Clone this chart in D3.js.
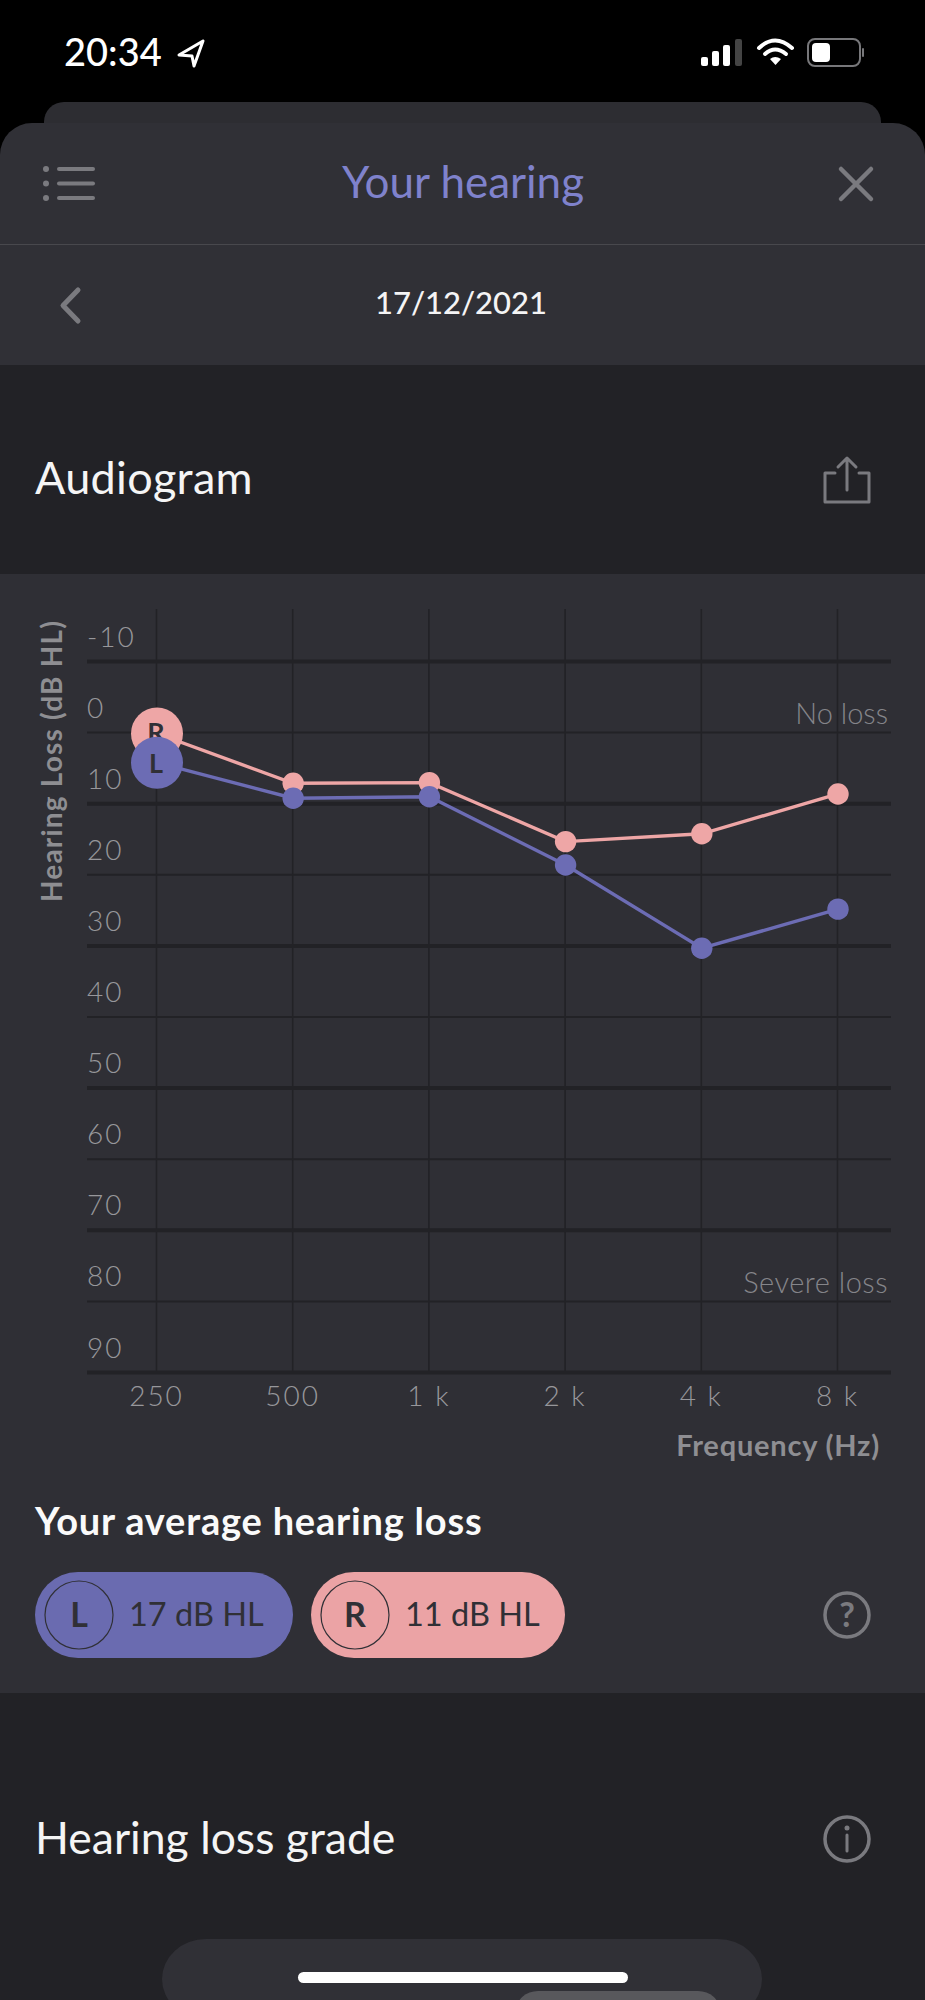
<!DOCTYPE html>
<html>
<head>
<meta charset="utf-8">
<script src="https://cdn.jsdelivr.net/npm/d3@7"></script>
<style>
  html, body { margin: 0; background: #000; }
  svg { display: block; }
  text { font-family: Lato, "Noto Sans", sans-serif; }
</style>
</head>
<body>
<div id="chart"></div>
<script>
const frequencies = ['250', '500', '1 k', '2 k', '4 k', '8 k']
const rightEar = [0.2, 7.2, 7.1, 15.4, 14.3, 8.7]
const leftEar = [4.3, 9.3, 9.1, 18.7, 30.4, 24.9]
const levels = [-10, 0, 10, 20, 30, 40, 50, 60, 70, 80, 90]
const averages = [
  {ear: 'L', text: '17 dB HL'},
  {ear: 'R', text: '11 dB HL'},
]

const pink = '#eea6a6'
const blue = '#6c6cb4'
const dark = '#222226'
const card = '#303036'
const icon = '#7a7a7f'
const axisText = '#8e8e92'
const tickText = '#97979b'

const svg = d3.select('#chart').append('svg').attr('width', 925).attr('height', 2000)

function rect (x, y, w, h, fill, r) {
  return svg.append('rect').attr('x', x).attr('y', y).attr('width', w).attr('height', h)
    .attr('rx', r || 0).attr('fill', fill)
}
function label (x, y, str, size, fill, weight, anchor, spacing) {
  return svg.append('text').attr('x', x).attr('y', y).text(str)
    .attr('font-size', size).attr('fill', fill)
    .attr('font-weight', weight || 400).attr('text-anchor', anchor || 'start')
    .attr('letter-spacing', spacing || 0)
}
function stroke (d, color, width) {
  return svg.append('path').attr('d', d).attr('fill', 'none').attr('stroke', color)
    .attr('stroke-width', width).attr('stroke-linecap', 'round').attr('stroke-linejoin', 'round')
}

// backgrounds
rect(0, 0, 925, 2000, '#000')
rect(44, 102, 837, 60, '#2d2d32', 20)
rect(0, 123, 925, 300, card, 32)
rect(0, 365, 925, 1635, dark)
rect(0, 574, 925, 1119, '#2f2f35')
rect(0, 244, 925, 1, '#48484d')

// status bar
label(64, 66, '20:34', 38, '#fff', 500)
stroke('M203,41 L179,55 L192,56 L194,66 Z', '#fff', 3)
d3.range(3).forEach(i => rect(701 + i * 11, 57 - i * 6, 7, 9 + i * 6, '#fff', 2))
rect(735, 39, 7, 27, '#444', 2)
stroke('M759,48 Q775,33 792,48', '#fff', 4)
stroke('M765,54 Q775,45 786,54', '#fff', 4)
svg.append('path').attr('d', 'M770,59 Q775,55 781,59 L775.5,65 Z').attr('fill', '#fff')
rect(808, 39, 52, 27, 'none', 7).attr('stroke', '#77777a').attr('stroke-width', 2)
rect(812, 43, 18, 19, '#fff', 4)
rect(862, 48, 2, 9, '#77777a', 1)

// header
;[169, 183.5, 198].forEach(y => {
  svg.append('circle').attr('cx', 46).attr('cy', y).attr('r', 3).attr('fill', icon)
  stroke(`M59,${y} H93`, icon, 4)
})
label(463, 198, 'Your hearing', 44, '#7f82cc', 400, 'middle')
stroke('M841,169 L871,199 M871,169 L841,199', icon, 4.5)
stroke('M78,290 L63,305.5 L78,321', icon, 5)
label(461, 314, '17/12/2021', 31, '#f4f4f5', 500, 'middle')

// section title
label(35, 494, 'Audiogram', 45, '#f5f5f5', 400, 'start', 0.3)
stroke('M835,473 H825 V502 H869 V473 H859', icon, 3)
stroke('M847,490 V459 M838,467 L847,458 L856,467', icon, 3)

// chart
const x = d3.scalePoint().domain(frequencies).range([156, 837])
const y = d3.scaleLinear().domain([-10, 90]).range([661, 1372])

const xAxis = d3.axisBottom(x).tickSizeInner(-763).tickSizeOuter(0).tickPadding(14)
const yAxis = d3.axisLeft(y).tickValues(levels).tickFormat(d => String(d)).tickSizeInner(-804).tickSizeOuter(0)

const gx = svg.append('g').attr('transform', 'translate(0,1372)').call(xAxis)
gx.select('.domain').remove()
gx.selectAll('line').attr('stroke', dark).attr('stroke-width', 1.6)
gx.selectAll('text').attr('fill', tickText).attr('font-size', 28).attr('font-weight', 300)
  .attr('font-family', 'Lato').attr('letter-spacing', 2)

const gy = svg.append('g').attr('transform', 'translate(87,0)').call(yAxis)
gy.select('.domain').remove()
gy.selectAll('line').attr('stroke', dark)
  .attr('stroke-width', (d, i) => i % 2 === 0 ? 4 : 2)
// tick labels sit on top of their line, flush with its left end
gy.selectAll('text').attr('fill', tickText).attr('font-size', 28).attr('font-weight', 300)
  .attr('font-family', 'Lato').attr('letter-spacing', 2)
  .attr('x', 0).attr('dy', 0).attr('y', -15).attr('text-anchor', 'start')

label(0, 0, 'Hearing Loss (dB HL)', 28, axisText, 700, 'middle', 1.2)
  .attr('transform', 'translate(62,761) rotate(-90)')
label(888, 724, 'No loss', 29, '#85858a', 300, 'end')
label(888, 1293, 'Severe loss', 29, '#85858a', 300, 'end', 0.5)
label(880, 1456, 'Frequency (Hz)', 29, axisText, 700, 'end', 0.8)

const line = d3.line().x((d, i) => x(frequencies[i]) + 1).y(d => y(d))

function drawEar (values, color, name, dy) {
  svg.append('path').datum(values).attr('d', line).attr('fill', 'none')
    .attr('stroke', color).attr('stroke-width', 3.4)
  svg.append('g').selectAll('circle').data(values).join('circle')
    .attr('cx', (d, i) => x(frequencies[i]) + 1)
    .attr('cy', d => y(d))
    .attr('r', (d, i) => i === 0 ? 26 : 10.7)
    .attr('fill', color)
  label(x(frequencies[0]), y(values[0]) + dy, name, 27, card, 700, 'middle')
}
drawEar(rightEar, pink, 'R', 8)
drawEar(leftEar, blue, 'L', 10)

// average hearing loss
label(35, 1535, 'Your average hearing loss', 38, '#fafafa', 700, 'start', 0.8)
const pillX = d3.scaleOrdinal().domain(['L', 'R']).range([35, 311])
const pillW = d3.scaleOrdinal().domain(['L', 'R']).range([258, 254])
const pills = svg.append('g').selectAll('g').data(averages).join('g')
  .attr('transform', d => `translate(${pillX(d.ear)},1572)`)
pills.append('rect').attr('width', d => pillW(d.ear)).attr('height', 86).attr('rx', 43)
  .attr('fill', d => d.ear === 'L' ? '#6a6bb0' : '#eba3a5')
pills.append('circle').attr('cx', 44).attr('cy', 43).attr('r', 34)
  .attr('fill', 'none').attr('stroke', card).attr('stroke-width', 1.2)
pills.append('text').attr('x', 44).attr('y', 55).attr('text-anchor', 'middle')
  .attr('font-size', 34).attr('font-weight', 700).attr('fill', card).text(d => d.ear)
pills.append('text').attr('x', 94).attr('y', 54)
  .attr('font-size', 32.5).attr('fill', card).text(d => d.text)

// help and info icons
svg.append('circle').attr('cx', 847).attr('cy', 1615).attr('r', 22).attr('fill', 'none')
  .attr('stroke', icon).attr('stroke-width', 3.5)
label(847, 1627, '?', 34, icon, 700, 'middle')

label(35, 1854, 'Hearing loss grade', 44.5, '#f5f5f5')
svg.append('circle').attr('cx', 847).attr('cy', 1839).attr('r', 22).attr('fill', 'none')
  .attr('stroke', icon).attr('stroke-width', 3.5)
svg.append('circle').attr('cx', 847).attr('cy', 1828).attr('r', 2.5).attr('fill', icon)
stroke('M847,1835 V1851', icon, 3)

// bottom card and home indicator
rect(162, 1939, 600, 80, card, 44)
rect(516, 1991, 204, 40, '#58585c', 22)
rect(298, 1972, 330, 11, '#fff', 5.5)
</script>
</body>
</html>
